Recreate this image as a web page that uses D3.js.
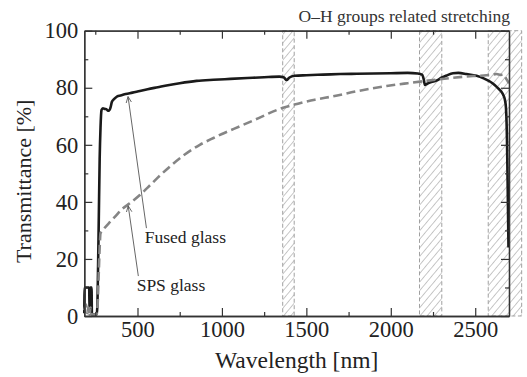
<!DOCTYPE html>
<html>
<head>
<meta charset="utf-8">
<script src="https://cdn.jsdelivr.net/npm/d3@7"></script>
<style>
  body { margin: 0; background: #fff; }
  svg { display: block; }
  svg text { font-family: "Liberation Serif", "DejaVu Serif", serif; }
</style>
</head>
<body>
<svg width="527" height="377"></svg>
<script>
// data
const fusedWavelength = [185, 187, 214, 216, 220, 228, 230, 258, 262, 266, 271, 276, 281, 287, 295, 305, 316, 324, 332, 340, 348, 356, 366, 380, 400, 430, 470, 514, 560, 620, 680, 750, 850, 950, 1050, 1150, 1250, 1340, 1365, 1383, 1400, 1430, 1500, 1600, 1700, 1800, 1900, 2000, 2100, 2160, 2185, 2195, 2202, 2215, 2240, 2270, 2300, 2330, 2368, 2400, 2450, 2508, 2550, 2587, 2615, 2636, 2655, 2666, 2676, 2682, 2688, 2693, 2697];
const fusedT = [1, 10, 10, 2, 10, 10, 0.5, 0.5, 3, 15, 35, 55, 66, 72.2, 72.8, 72.6, 72.5, 72, 72, 73, 75, 75.7, 76.3, 77, 77.3, 77.8, 78.3, 78.9, 79.5, 80.2, 80.9, 81.6, 82.4, 82.8, 83.1, 83.4, 83.7, 83.9, 83.7, 82.7, 83.6, 84.2, 84.4, 84.6, 84.8, 84.9, 85, 85.1, 85.2, 85, 84.6, 83, 81, 81.4, 82, 82.5, 83.5, 84.3, 85.1, 85.2, 84.8, 84.2, 83.3, 82.2, 81, 79.8, 78.6, 77.5, 75.7, 73, 62, 42, 24];

const spsWavelength = [185, 195, 202, 210, 216, 222, 228, 258, 264, 270, 276, 281, 300, 330, 370, 410, 454, 514, 560, 620, 700, 780, 869, 950, 1000, 1106, 1200, 1343, 1450, 1550, 1659, 1800, 1975, 2100, 2251, 2350, 2488, 2550, 2600, 2627, 2650, 2670, 2682, 2690, 2700];
const spsT = [2, 4, 1, 3, 0.5, 3, 0.5, 0.5, 4, 14, 24, 29, 30.5, 32.5, 35, 37.5, 39.5, 42.4, 45, 48.5, 52.8, 56.6, 60, 62.4, 63.8, 66.5, 68.9, 72.6, 74.4, 75.8, 77, 78.8, 80.6, 81.6, 82.7, 83.4, 84.1, 84.3, 84.6, 84.8, 84.5, 84.6, 83.3, 82.5, 81.6];

// O-H absorption bands [start, end] in nm
const ohBands = [[1360, 1428], [2170, 2302], [2577, 2775]];

const xMajorTicks = [500, 1000, 1500, 2000, 2500];
const xMinorTicks = [250, 750, 1250, 1750, 2250];
const yMajorTicks = [0, 20, 40, 60, 80, 100];
const yMinorTicks = [10, 30, 50, 70, 90];

// label arrows: [text, textWl, textT, tailWl, tailT, tipWl, tipT]
const labels = [
  ["Fused glass", 543, 25.7, 553, 30.8, 444, 76.9],
  ["SPS glass", 495, 8.8, 505, 14, 445, 38.6],
];

const svg = d3.select("svg");
const margin = { top: 30.7, right: 18, bottom: 61, left: 84.3 };
const width = +svg.attr("width");
const height = +svg.attr("height");
const innerWidth = width - margin.left - margin.right;
const innerHeight = height - margin.top - margin.bottom;

const x = d3.scaleLinear().domain([185, 2700]).range([0, innerWidth]);
const y = d3.scaleLinear().domain([0, 100]).range([innerHeight, 0]);

const defs = svg.append("defs");
defs.append("pattern")
  .attr("id", "hatch")
  .attr("patternUnits", "userSpaceOnUse")
  .attr("width", 5.5)
  .attr("height", 6)
  .attr("patternTransform", "rotate(40)")
  .append("line")
  .attr("x1", 0).attr("y1", 0)
  .attr("x2", 0).attr("y2", 6)
  .attr("stroke", "#8f8f8f")
  .attr("stroke-width", 1);

defs.append("marker")
  .attr("id", "arrow")
  .attr("viewBox", "0 0 10 10")
  .attr("refX", 9)
  .attr("refY", 5)
  .attr("markerWidth", 7)
  .attr("markerHeight", 7)
  .attr("markerUnits", "userSpaceOnUse")
  .attr("orient", "auto")
  .append("path")
  .attr("d", "M0,1 L9,5 L0,9")
  .attr("fill", "none")
  .attr("stroke", "#555")
  .attr("stroke-width", 1.2);

const g = svg.append("g")
  .attr("transform", `translate(${margin.left}, ${margin.top})`);

// hatched bands (last one runs past the frame)
g.append("g")
  .selectAll("rect")
  .data(ohBands)
  .enter()
  .append("rect")
  .attr("x", (d) => x(d[0]))
  .attr("y", 0)
  .attr("width", (d) => x(d[1]) - x(d[0]))
  .attr("height", innerHeight)
  .attr("fill", "url(#hatch)")
  .attr("stroke", "#a0a0a0")
  .attr("stroke-width", 1)
  .attr("stroke-dasharray", "4,2.5");

// lines
const fusedData = fusedWavelength.map((w, i) => [w, fusedT[i]]);
const spsData = spsWavelength.map((w, i) => [w, spsT[i]]);
const line = d3.line()
  .x((d) => x(d[0]))
  .y((d) => y(d[1]))
  .curve(d3.curveMonotoneX);

g.append("path")
  .datum(fusedData)
  .attr("d", line)
  .attr("fill", "none")
  .attr("stroke", "#1a1a1a")
  .attr("stroke-width", 2.6)
  .attr("stroke-linejoin", "round");

g.append("path")
  .datum(spsData)
  .attr("d", line)
  .attr("fill", "none")
  .attr("stroke", "#858585")
  .attr("stroke-width", 2.6)
  .attr("stroke-dasharray", "9,4.5");

// axes, ticks pointing inward
const serif = "'Liberation Serif', 'DejaVu Serif', serif";
const axisStyle = (sel) => {
  sel.attr("font-family", serif).attr("font-size", null);
  sel.selectAll(".domain").attr("stroke", "#333").attr("stroke-width", 1.3);
  sel.selectAll(".tick line").attr("stroke", "#333").attr("stroke-width", 1.2);
  sel.selectAll("text")
    .attr("fill", "#222")
    .style("font-size", "22.5px")
    .style("font-family", serif);
};
const bareAxis = (sel) => {
  axisStyle(sel);
  sel.selectAll("text").remove();
};
const fmt = d3.format("d");

g.append("g")
  .attr("transform", `translate(0, ${innerHeight})`)
  .call(d3.axisBottom(x).tickValues(xMajorTicks).tickSize(-8).tickPadding(5).tickFormat(fmt).tickSizeOuter(0))
  .call(axisStyle);
g.append("g")
  .attr("transform", `translate(0, ${innerHeight})`)
  .call(d3.axisBottom(x).tickValues(xMinorTicks).tickSize(-4).tickSizeOuter(0))
  .call(bareAxis);
g.append("g")
  .call(d3.axisTop(x).tickValues(xMajorTicks).tickSize(-8).tickSizeOuter(0))
  .call(bareAxis);
g.append("g")
  .call(d3.axisTop(x).tickValues(xMinorTicks).tickSize(-4).tickSizeOuter(0))
  .call(bareAxis);

g.append("g")
  .call(d3.axisLeft(y).tickValues(yMajorTicks).tickSize(-8).tickPadding(6).tickFormat(fmt).tickSizeOuter(0))
  .call(axisStyle);
g.append("g")
  .call(d3.axisLeft(y).tickValues(yMinorTicks).tickSize(-4).tickSizeOuter(0))
  .call(bareAxis);
g.append("g")
  .attr("transform", `translate(${innerWidth}, 0)`)
  .call(d3.axisRight(y).tickValues(yMajorTicks).tickSize(-8).tickSizeOuter(0))
  .call(bareAxis);
g.append("g")
  .attr("transform", `translate(${innerWidth}, 0)`)
  .call(d3.axisRight(y).tickValues(yMinorTicks).tickSize(-4).tickSizeOuter(0))
  .call(bareAxis);

// axis titles
svg.append("text")
  .attr("x", margin.left + innerWidth / 2)
  .attr("y", 368)
  .attr("text-anchor", "middle")
  .attr("fill", "#222")
  .style("font-family", serif)
  .style("font-size", "23.5px")
  .text("Wavelength [nm]");

svg.append("text")
  .attr("transform", `translate(31, ${margin.top + innerHeight / 2 + 8}) rotate(-90)`)
  .attr("text-anchor", "middle")
  .attr("fill", "#222")
  .style("font-family", serif)
  .style("font-size", "22px")
  .text("Transmittance [%]");

svg.append("text")
  .attr("x", 510)
  .attr("y", 21.5)
  .attr("text-anchor", "end")
  .attr("fill", "#333")
  .style("font-family", serif)
  .style("font-size", "17.5px")
  .text("O\u2013H groups related stretching");

// labels with arrows
const lab = g.append("g").selectAll("g").data(labels).enter().append("g");
lab.append("line")
  .attr("x1", (d) => x(d[3]))
  .attr("y1", (d) => y(d[4]))
  .attr("x2", (d) => x(d[5]))
  .attr("y2", (d) => y(d[6]))
  .attr("stroke", "#555")
  .attr("stroke-width", 0.9)
  .attr("marker-end", "url(#arrow)");
lab.append("text")
  .attr("x", (d) => x(d[1]))
  .attr("y", (d) => y(d[2]))
  .attr("fill", "#222")
  .style("font-family", serif)
  .style("font-size", "17.5px")
  .text((d) => d[0]);
</script>
</body>
</html>
